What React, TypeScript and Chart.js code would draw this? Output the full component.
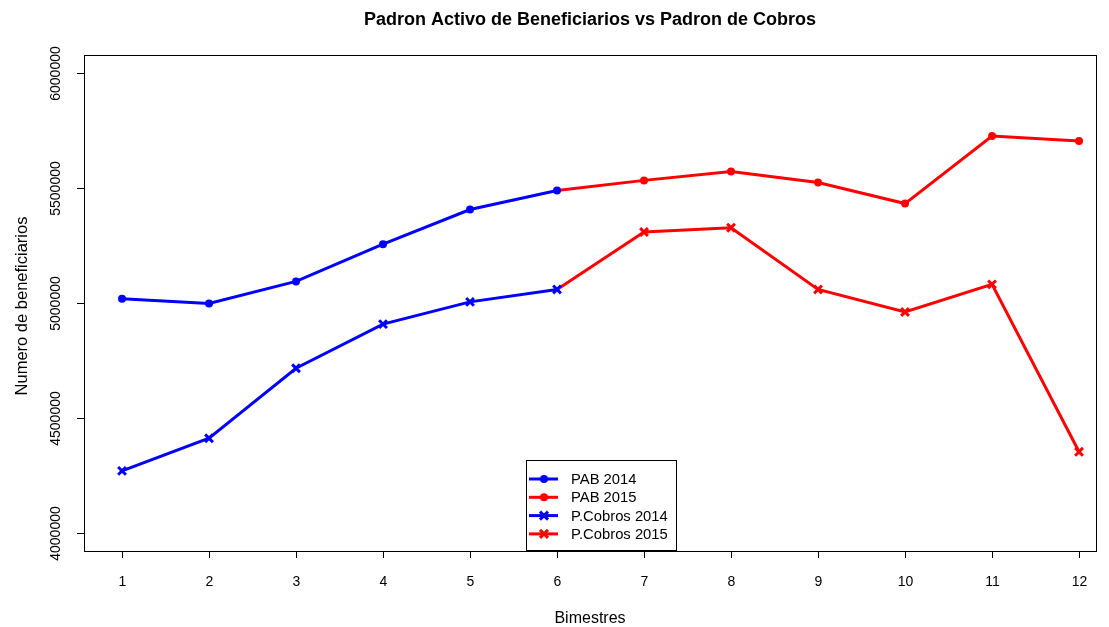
import React, { useEffect, useRef } from "react";
import { Chart, registerables } from "chart.js";

Chart.register(...registerables);

const bimestres = [1, 2, 3, 4, 5, 6, 7, 8, 9, 10, 11, 12];
const pab2014 = [5018000, 4998000, 5094000, 5256000, 5407000, 5490000];
const pab2015 = [5490000, 5534000, 5573000, 5525000, 5433000, 5727000, 5705000];
const cobros2014 = [4269000, 4411000, 4716000, 4908000, 5005000, 5059000];
const cobros2015 = [5059000, 5309000, 5328000, 5059000, 4961000, 5081000, 4352000];
const yTicks = [4000000, 4500000, 5000000, 5500000, 6000000];
const legendLabels = ["PAB 2014", "PAB 2015", "P.Cobros 2014", "P.Cobros 2015"];

const FONT = "'Liberation Sans', Arial, Helvetica, sans-serif";
const BLUE = "#0000FF";
const RED = "#FF0000";

function toPoints(xs: number[], ys: number[]) {
  return ys.map((y, i) => ({ x: xs[i], y }));
}

const decorPlugin = {
  id: "decor",
  afterDraw(chart: any) {
    const ctx = chart.ctx as CanvasRenderingContext2D;
    const { left, right, top, bottom } = chart.chartArea;
    const xs = chart.scales.x;
    const ys = chart.scales.y;
    ctx.save();
    ctx.strokeStyle = "#000";
    ctx.fillStyle = "#000";
    ctx.lineWidth = 1;
    ctx.strokeRect(Math.round(left) + 0.5, Math.round(top) + 0.5, Math.round(right - left), Math.round(bottom - top));
    ctx.font = `14px ${FONT}`;
    ctx.textAlign = "center";
    ctx.textBaseline = "middle";
    bimestres.forEach((b) => {
      const px = Math.round(xs.getPixelForValue(b)) + 0.5;
      ctx.beginPath();
      ctx.moveTo(px, bottom);
      ctx.lineTo(px, bottom + 7);
      ctx.stroke();
      ctx.fillText(String(b), px, bottom + 31);
    });
    yTicks.forEach((t) => {
      const py = Math.round(ys.getPixelForValue(t)) + 0.5;
      ctx.beginPath();
      ctx.moveTo(left, py);
      ctx.lineTo(left - 7, py);
      ctx.stroke();
      ctx.save();
      ctx.translate(left - 28, py);
      ctx.rotate(-Math.PI / 2);
      ctx.fillText(String(t), 0, 0);
      ctx.restore();
    });
    ctx.font = `bold 18px ${FONT}`;
    ctx.fillText("Padron Activo de Beneficiarios vs Padron de Cobros", (left + right) / 2, 20);
    ctx.font = `16px ${FONT}`;
    ctx.fillText("Bimestres", (left + right) / 2, bottom + 68);
    ctx.save();
    ctx.translate(22, (top + bottom) / 2 + 3);
    ctx.rotate(-Math.PI / 2);
    ctx.font = `16.5px ${FONT}`;
    ctx.fillText("Numero de beneficiarios", 0, 0);
    ctx.restore();
    const lx = 526, ly = 460, lw = 150, lh = 90;
    ctx.fillStyle = "#fff";
    ctx.fillRect(lx, ly, lw, lh);
    ctx.strokeRect(lx + 0.5, ly + 0.5, lw, lh);
    ctx.font = `14.8px ${FONT}`;
    const colors = [BLUE, RED, BLUE, RED];
    legendLabels.forEach((lab, i) => {
      const y = ly + 19 + i * 18.3;
      ctx.strokeStyle = colors[i];
      ctx.fillStyle = colors[i];
      ctx.lineWidth = 3;
      ctx.beginPath();
      ctx.moveTo(529, y);
      ctx.lineTo(558, y);
      ctx.stroke();
      if (i < 2) {
        ctx.beginPath();
        ctx.arc(544, y, 4, 0, Math.PI * 2);
        ctx.fill();
      } else {
        ctx.beginPath();
        ctx.moveTo(540, y - 4);
        ctx.lineTo(548, y + 4);
        ctx.moveTo(548, y - 4);
        ctx.lineTo(540, y + 4);
        ctx.stroke();
      }
      ctx.fillStyle = "#000";
      ctx.textAlign = "left";
      ctx.fillText(lab, 571, y + 1);
    });
    ctx.restore();
  },
};

export default function App() {
  const ref = useRef<HTMLCanvasElement>(null);
  useEffect(() => {
    document.body.style.margin = "0";
    const canvas = ref.current!;
    const common = { borderWidth: 3, pointBorderWidth: 3, tension: 0 };
    const chart = new Chart(canvas, {
      type: "line",
      data: {
        datasets: [
          { label: "PAB 2014", data: toPoints(bimestres, pab2014), borderColor: BLUE, backgroundColor: BLUE, pointStyle: "circle", pointRadius: 4, pointBorderWidth: 0, borderWidth: 3, order: 1 },
          { label: "P.Cobros 2014", data: toPoints(bimestres, cobros2014), borderColor: BLUE, backgroundColor: BLUE, pointStyle: "cross", pointRotation: 45, pointRadius: 5.5, ...common, order: 1 },
          { label: "PAB 2015", data: toPoints(bimestres.slice(5), pab2015), borderColor: RED, backgroundColor: RED, pointStyle: "circle", pointRadius: [0, 4, 4, 4, 4, 4, 4], pointBorderWidth: 0, borderWidth: 3, order: 2 },
          { label: "P.Cobros 2015", data: toPoints(bimestres.slice(5), cobros2015), borderColor: RED, backgroundColor: RED, pointStyle: "cross", pointRotation: 45, pointRadius: [0, 5.5, 5.5, 5.5, 5.5, 5.5, 5.5], ...common, order: 2 },
        ] as any,
      },
      options: {
        animation: false,
        responsive: false,
        layout: { padding: { left: 84, right: 13, top: 55, bottom: 76 } },
        plugins: { legend: { display: false }, title: { display: false }, tooltip: { enabled: false } },
        scales: {
          x: { type: "linear", display: false, min: 0.563, max: 12.195 },
          y: { type: "linear", display: false, min: 3920000, max: 6080000 },
        },
      },
      plugins: [decorPlugin],
    });
    return () => chart.destroy();
  }, []);
  return (
    <div style={{ position: "absolute", left: 0, top: 0, width: 1109, height: 627, background: "#fff" }}>
      <canvas ref={ref} width={1109} height={627} style={{ width: 1109, height: 627, display: "block" }} />
    </div>
  );
}
